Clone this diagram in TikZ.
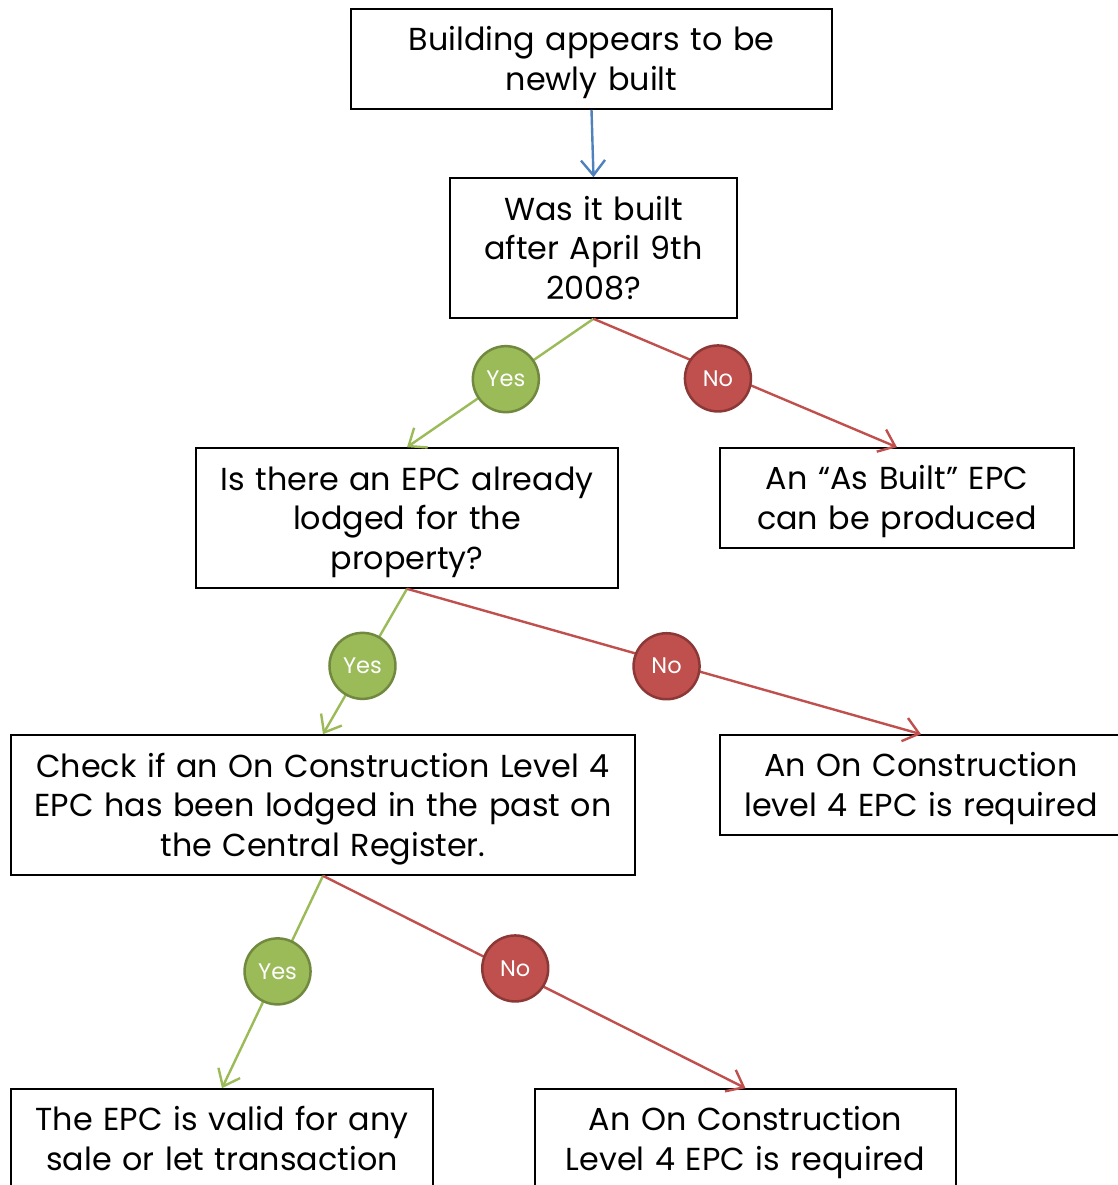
\documentclass[tikz,border=0pt]{standalone}
\usepackage{fontspec}
\setmainfont{Poppins}
\usepackage{xcolor}
\usetikzlibrary{arrows.meta}

\definecolor{yesfill}{HTML}{9BBB59}
\definecolor{yesrim}{HTML}{71893F}
\definecolor{nofill}{HTML}{C0504D}
\definecolor{norim}{HTML}{8C3836}
\definecolor{downblue}{HTML}{4F81BD}

\tikzset{
  box/.style={draw, line width=1.6pt, align=center, inner sep=0pt,
    text width=#1, minimum width=#1,
    font=\fontsize{31.8}{39.5}\selectfont,
    execute at begin node={\rule{0pt}{32pt}},
    execute at end node={\rule[-9pt]{0pt}{0pt}}},
  answer/.style={circle, line width=2.5pt, minimum size=66pt, inner sep=0pt,
    text=white, font=\fontsize{22.5}{24}\selectfont},
  yes/.style={answer, draw=yesrim, fill=yesfill},
  no/.style={answer, draw=norim, fill=nofill},
  tip/.style={-{Straight Barb[length=15pt,width=24pt,line width=2.4pt]}, line width=2.4pt},
  yesline/.style={tip, yesfill},
  noline/.style={tip, nofill}
}

\begin{document}
\begin{tikzpicture}[x=1pt,y=-1pt]
\useasboundingbox[fill=white] (0,0) rectangle (1118,1185);
\clip (0,0) rectangle (1118,1185);

\node[box=481pt, minimum height=100pt] (built) at (591.5,59) {Building appears to be\\newly built};
\node[box=287pt, minimum height=140pt] (date) at (593.5,248) {Was it built\\after April 9th\\2008?};
\node[box=422pt, minimum height=140pt] (lodged) at (407,518) {Is there an EPC already\\lodged for the\\property?};
\node[box=354pt, minimum height=100pt] (asbuilt) at (897,498) {An “As Built” EPC\\can be produced};
\node[box=624pt, minimum height=140pt] (register) at (323,805) {Check if an On Construction Level 4\\EPC has been lodged in the past on\\the Central Register.};
\node[box=402pt, minimum height=100pt] (needA) at (921,785) {An On Construction\\level 4 EPC is required};
\node[box=422pt, minimum height=100pt] (valid) at (222,1139) {The EPC is valid for any\\sale or let transaction};
\node[box=421pt, minimum height=100pt] (needB) at (745.5,1139) {An On Construction\\Level 4 EPC is required};

% arrows
\draw[tip, downblue] (built.south) -- (date.north);

\draw[yesline] (date.south) -- node[pos=0.47, yes]{Yes} (lodged.north);
\draw[noline] (date.south) -- node[pos=0.41, no, yshift=-7pt]{No} (asbuilt.north);

\draw[yesline] (lodged.south) -- node[pos=0.53, yes]{Yes} (register.north);
\draw[noline] (lodged.south) -- node[pos=0.505, no, yshift=-4pt]{No} (needA.north);

\draw[yesline] (register.south) -- node[pos=0.45, yes]{Yes} (valid.north);
\draw[noline] (register.south) -- node[pos=0.455, no, yshift=4pt]{No} (needB.north);
\end{tikzpicture}
\end{document}
